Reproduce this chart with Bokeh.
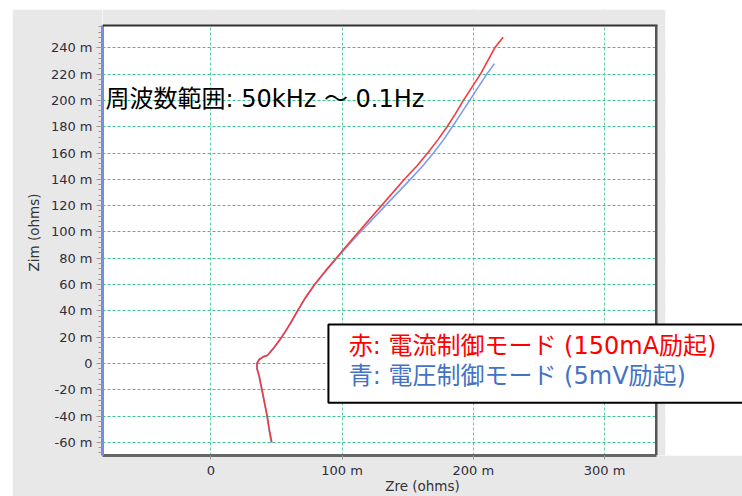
from bokeh.plotting import figure
from bokeh.layouts import row, column
from bokeh.models import Range1d, FixedTicker, BoxAnnotation, Label, Spacer
from bokeh.embed import file_html
from bokeh.resources import INLINE

# Impedance data (mOhm), ordered from 50 kHz down to 0.1 Hz
red_zre = [46.5, 44.5, 43.0, 41.0, 39.0, 37.0, 35.3, 35.2, 36.9, 40.0, 43.0, 48.0, 52.5,
           56.5, 60.5, 66.0, 72.0, 79.0, 87.0, 95.5, 104.0, 112.5, 130.0, 147.5, 156.8,
           165.2, 172.9, 180.0, 186.4, 192.4, 205.4, 216.3, 222.7]
red_zim = [-60, -50, -40, -30, -20, -10, -4, 0, 3, 5, 6, 12, 18,
           24, 30.5, 40, 50, 60, 70, 80, 90, 100, 120, 140, 150,
           160, 170, 180, 190, 200, 220, 240, 248]

blue_zre = [46.0, 44.3, 42.8, 40.8, 38.8, 36.8, 35.1, 35.0, 36.7, 39.8, 43.2, 48.2, 52.8,
            56.8, 60.8, 66.3, 72.3, 79.2, 87.3, 95.9, 104.8, 114.0, 133.0, 152.0, 161.2,
            169.6, 177.2, 184.0, 190.6, 197.2, 210.2, 216.1]
blue_zim = [-60, -50, -40, -30, -20, -10, -4, 0, 3, 5.2, 6.2, 12, 18,
            24, 30.5, 40, 50, 60, 70, 80, 90, 100, 120, 140, 150,
            160, 170, 180, 190, 200, 220, 228]

x_ticks = [0, 100, 200, 300]
x_labels = ["0", "100 m", "200 m", "300 m"]
y_ticks = [-60, -40, -20, 0, 20, 40, 60, 80, 100, 120, 140, 160, 180, 200, 220, 240]
y_labels = ["-60 m", "-40 m", "-20 m", "0", "20 m", "40 m", "60 m", "80 m", "100 m",
            "120 m", "140 m", "160 m", "180 m", "200 m", "220 m", "240 m"]

freq_text = "周波数範囲: 50kHz ～ 0.1Hz"
legend_red = "赤: 電流制御モード (150mA励起)"
legend_blue = "青: 電圧制御モード (5mV励起)"

# frame geometry: the frame runs to the right and top edges of the canvas,
# the visible plotting box ends at PLOT_X1 / PLOT_Y1
FRAME_W, FRAME_H = 640, 447
PX_X, PX_Y = 554 / 422, 431 / 327          # pixels per mOhm
X0, Y0 = -82.5, -70.0
X1 = X0 + FRAME_W / PX_X
Y1 = Y0 + FRAME_H / PX_Y
PLOT_X1, PLOT_Y1 = 339.5, 257.0
PANEL_X1 = X0 + 563 / PX_X                 # right edge of the grey panel

PANEL = "#e8e8e8"
TEXT_FONT = "DejaVu Sans, Noto Sans CJK JP"

p = figure(width=730, height=487, output_backend="svg", toolbar_location=None,
           x_range=Range1d(X0, X1), y_range=Range1d(Y0, Y1),
           min_border_left=90, min_border_right=0, min_border_top=0, min_border_bottom=40)
p.border_fill_color = PANEL
p.background_fill_color = "white"
p.outline_line_color = None

minor_y = [v for v in range(-68, 257, 4) if v % 20 != 0]
p.xaxis.ticker = FixedTicker(ticks=x_ticks, minor_ticks=[])
p.yaxis.ticker = FixedTicker(ticks=y_ticks, minor_ticks=minor_y)
p.xaxis.major_label_overrides = dict(zip(x_ticks, x_labels))
p.yaxis.major_label_overrides = dict(zip(y_ticks, y_labels))
p.xaxis.bounds = (X0, PLOT_X1)
p.yaxis.bounds = (Y0, PLOT_Y1)

for ax in (p.xaxis[0], p.yaxis[0]):
    ax.major_label_text_font = "DejaVu Sans"
    ax.major_label_text_font_size = "13px"
    ax.major_label_text_color = "#2e2e3a"
    ax.axis_label_text_font = "DejaVu Sans"
    ax.axis_label_text_font_size = "13.5px"
    ax.axis_label_text_font_style = "normal"
    ax.axis_label_text_color = "#333333"
    ax.major_tick_in = 0
    ax.minor_tick_in = 0
    ax.major_tick_line_color = "#9a9a9a"
    ax.minor_tick_line_color = "#9a9a9a"

p.xaxis.axis_label = "Zre (ohms)"
p.yaxis.axis_label = "Zim (ohms)"
p.xaxis.axis_line_color = "#666666"
p.xaxis.axis_line_width = 3
p.yaxis.axis_line_color = "#6f8fe6"
p.yaxis.axis_line_width = 3
p.xaxis.major_tick_out = 4
p.xaxis.minor_tick_out = 0
p.xaxis.major_label_standoff = 3
p.xaxis.axis_label_standoff = -3
p.yaxis.major_tick_out = 6
p.yaxis.minor_tick_out = 4
p.yaxis.major_label_standoff = 4
p.yaxis.axis_label_standoff = 6

p.xgrid.ticker = FixedTicker(ticks=x_ticks)
p.ygrid.ticker = FixedTicker(ticks=y_ticks)
p.xgrid.grid_line_color = "#5fcfa2"
p.ygrid.grid_line_color = "#3cc48f"
p.xgrid.grid_line_dash = "3 2"
p.ygrid.grid_line_dash = "3 2"

p.line(blue_zre, blue_zim, line_color="#7b9cf0", line_width=1.6, line_join="round")
p.line(red_zre, red_zim, line_color="#f03c3c", line_width=1.6, line_join="round")

# grey panel strips above and right of the plotting box, white page beyond
p.add_layout(BoxAnnotation(left=X0, right=PANEL_X1, bottom=PLOT_Y1, top=Y1,
                           fill_color=PANEL, fill_alpha=1, line_color=None))
p.add_layout(BoxAnnotation(left=PLOT_X1, right=PANEL_X1, bottom=Y0, top=PLOT_Y1,
                           fill_color=PANEL, fill_alpha=1, line_color=None))
p.add_layout(BoxAnnotation(left=PANEL_X1, right=X1, bottom=Y0, top=Y1,
                           fill_color="white", fill_alpha=1, line_color=None))
# dark top and right edges of the plotting box
p.add_layout(BoxAnnotation(left=X0, right=PLOT_X1 + 1.0 / PX_X,
                           bottom=PLOT_Y1 - 1.0 / PX_Y, top=PLOT_Y1 + 1.0 / PX_Y,
                           fill_color="#333333", fill_alpha=1, line_color=None))
p.add_layout(BoxAnnotation(left=PLOT_X1 - 1.5 / PX_X, right=PLOT_X1 + 1.0 / PX_X,
                           bottom=Y0, top=PLOT_Y1,
                           fill_color="#555555", fill_alpha=1, line_color=None))

p.add_layout(Label(x=-80.2, y=201.3, text=freq_text, text_font=TEXT_FONT,
                   text_font_size="24px", text_color="black",
                   text_align="left", text_baseline="middle"))

# legend box
p.add_layout(BoxAnnotation(left=89.6, right=X1 + 10, top=29.6, bottom=-29.8,
                           fill_color="white", fill_alpha=1,
                           line_color="black", line_alpha=1, line_width=2))
p.add_layout(Label(x=105.1, y=13.1, text=legend_red, text_font=TEXT_FONT,
                   text_font_size="24px", text_color="#ff0000",
                   text_align="left", text_baseline="middle"))
p.add_layout(Label(x=105.1, y=-9.6, text=legend_blue, text_font=TEXT_FONT,
                   text_font_size="24px", text_color="#4472c4",
                   text_align="left", text_baseline="middle"))

layout = row(Spacer(width=12, height=496), column(Spacer(width=730, height=9), p))

open("out.html", "w").write(file_html(layout, INLINE))
